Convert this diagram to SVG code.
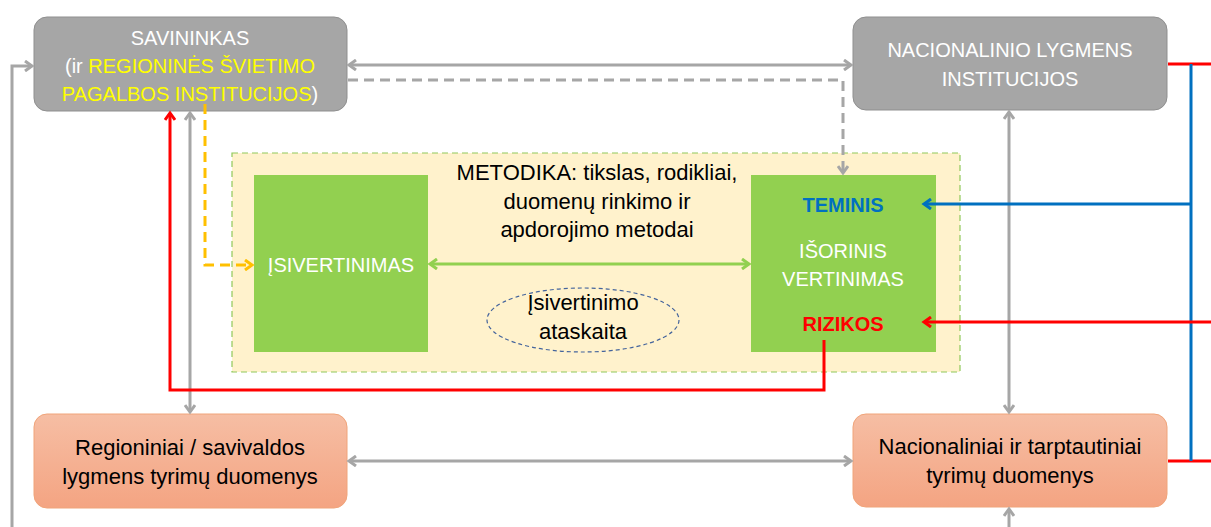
<svg xmlns="http://www.w3.org/2000/svg" width="1211" height="527" viewBox="0 0 1211 527">
<style>
text{font-family:"Liberation Sans",Arial,sans-serif;text-anchor:middle;font-size:20px}
.w{fill:#ffffff}.y{fill:#ffff00}.k{fill:#000000;font-size:22px}
.gbox{fill:#a6a6a6;stroke:#8f8f8f;stroke-width:1}
.obox{fill:url(#og);stroke:#f0a47a;stroke-width:1}
.grn{fill:#92d050}
.ln{fill:none;stroke-width:3}
</style>
<defs>
<linearGradient id="og" x1="0" y1="0" x2="0" y2="1"><stop offset="0" stop-color="#f6bea4"/><stop offset="1" stop-color="#f4a482"/></linearGradient>
<marker id="ag" markerWidth="12" markerHeight="12" refX="9" refY="6" orient="auto-start-reverse" markerUnits="userSpaceOnUse"><path d="M2,1 L9,6 L2,11" fill="none" stroke="#a6a6a6" stroke-width="3"/></marker>
<marker id="agr" markerWidth="12" markerHeight="12" refX="9" refY="6" orient="auto-start-reverse" markerUnits="userSpaceOnUse"><path d="M2,1 L9,6 L2,11" fill="none" stroke="#92d050" stroke-width="3"/></marker>
<marker id="ar" markerWidth="12" markerHeight="12" refX="9" refY="6" orient="auto" markerUnits="userSpaceOnUse"><path d="M2,1 L9,6 L2,11" fill="none" stroke="#ff0000" stroke-width="3"/></marker>
<marker id="ab" markerWidth="12" markerHeight="12" refX="9" refY="6" orient="auto" markerUnits="userSpaceOnUse"><path d="M2,1 L9,6 L2,11" fill="none" stroke="#0070c0" stroke-width="3"/></marker>
<marker id="ao" markerWidth="12" markerHeight="12" refX="9" refY="6" orient="auto" markerUnits="userSpaceOnUse"><path d="M2,1 L9,6 L2,11" fill="none" stroke="#ffc000" stroke-width="3"/></marker>
</defs>

<g id="metodika">
<rect x="232" y="153" width="728" height="219" fill="#fff2cc" stroke="#8fc85a" stroke-width="1.2" stroke-dasharray="6,4"/>
<text class="k" x="597" y="180">METODIKA: tikslas, rodikliai,</text>
<text class="k" x="597" y="209">duomenų rinkimo ir</text>
<text class="k" x="597" y="237">apdorojimo metodai</text>
</g>

<g id="ataskaita">
<ellipse cx="583" cy="320" rx="96" ry="32" fill="none" stroke="#44649c" stroke-width="1.2" stroke-dasharray="4,3"/>
<text class="k" x="583" y="310">Įsivertinimo</text>
<text class="k" x="583" y="339">ataskaita</text>
</g>

<g id="savininkas">
<rect class="gbox" x="34" y="17" width="313" height="94" rx="13"/>
<text class="w" x="190" y="45">SAVININKAS</text>
<text x="190" y="73"><tspan class="w">(ir </tspan><tspan class="y">REGIONINĖS ŠVIETIMO</tspan></text>
<text x="190" y="101"><tspan class="y">PAGALBOS INSTITUCIJOS</tspan><tspan class="w">)</tspan></text>
</g>

<g id="nacionalinio">
<rect class="gbox" x="853" y="17" width="314" height="93" rx="13"/>
<text class="w" x="1010" y="57">NACIONALINIO LYGMENS</text>
<text class="w" x="1010" y="86">INSTITUCIJOS</text>
</g>

<g id="regioniniai">
<rect class="obox" x="34" y="414" width="313" height="94" rx="13"/>
<text class="k" x="190" y="455">Regioniniai / savivaldos</text>
<text class="k" x="190" y="484">lygmens tyrimų duomenys</text>
</g>

<g id="nacionaliniai">
<rect class="obox" x="853" y="414" width="314" height="93" rx="13"/>
<text class="k" x="1010" y="454">Nacionaliniai ir tarptautiniai</text>
<text class="k" x="1010" y="483">tyrimų duomenys</text>
</g>

<g id="isivertinimas">
<rect class="grn" x="254" y="175" width="174" height="177"/>
<text class="w" x="341" y="272">ĮSIVERTINIMAS</text>
</g>

<g id="isorinis">
<rect class="grn" x="751" y="175" width="185" height="177"/>
<text x="843" y="212" fill="#0070c0" font-weight="bold" font-size="21">TEMINIS</text>
<text class="w" x="843" y="258">IŠORINIS</text>
<text class="w" x="843" y="286">VERTINIMAS</text>
<text x="843" y="331" fill="#ff0000" font-weight="bold">RIZIKOS</text>
</g>

<g id="connectors">
<path class="ln" stroke="#a6a6a6" d="M12,527 V66 H32" marker-end="url(#ag)"/>
<path class="ln" stroke="#a6a6a6" d="M349,65 H851" marker-start="url(#ag)" marker-end="url(#ag)"/>
<path class="ln" stroke="#a6a6a6" d="M349,461 H851" marker-start="url(#ag)" marker-end="url(#ag)"/>
<path class="ln" stroke="#a6a6a6" d="M190,113 V412" marker-start="url(#ag)" marker-end="url(#ag)"/>
<path class="ln" stroke="#a6a6a6" d="M1009,112 V412" marker-start="url(#ag)" marker-end="url(#ag)"/>
<path class="ln" stroke="#a6a6a6" d="M1009,527 V509" marker-end="url(#ag)"/>
<path class="ln" stroke="#a6a6a6" stroke-dasharray="10,6" d="M348,80 H843 V173" marker-end="url(#ag)"/>
<path class="ln" stroke="#ffc000" stroke-dasharray="10,6" d="M205,104 V265 H252" marker-end="url(#ao)"/>
<path class="ln" stroke="#92d050" d="M430,264 H749" marker-start="url(#agr)" marker-end="url(#agr)"/>
<path class="ln" stroke="#ff0000" d="M824,340 V390 H170 V113" marker-end="url(#ar)"/>
<path class="ln" stroke="#ff0000" d="M1168,64 H1211"/>
<path class="ln" stroke="#ff0000" d="M1168,461 H1211"/>
<path class="ln" stroke="#0070c0" d="M1191,64 V461"/>
<path class="ln" stroke="#0070c0" d="M1191,204 H924" marker-end="url(#ab)"/>
<path class="ln" stroke="#ff0000" d="M1211,322 H924" marker-end="url(#ar)"/>
</g>
</svg>
